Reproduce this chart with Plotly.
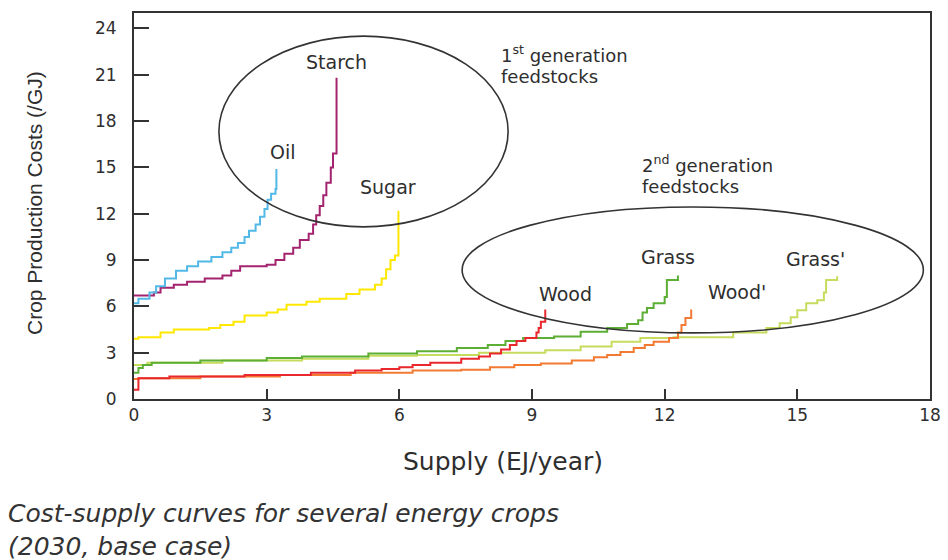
import plotly.graph_objects as go

# ---------------- data ----------------
oil_x = [0, 0.1, 0.35, 0.5, 0.7, 0.95, 1.2, 1.45, 1.75, 2.0, 2.2, 2.35, 2.5, 2.6, 2.75, 2.85, 2.95, 3.02, 3.1, 3.2, 3.22]
oil_y = [6.2, 6.5, 6.9, 7.3, 7.8, 8.3, 8.6, 8.9, 9.2, 9.5, 9.8, 10.1, 10.5, 10.9, 11.3, 11.8, 12.3, 12.9, 13.3, 13.6, 14.9]

starch_x = [0, 0.45, 0.6, 0.9, 1.2, 1.6, 2.0, 2.2, 2.4, 3.0, 3.2, 3.4, 3.6, 3.75, 3.95, 4.05, 4.12, 4.2, 4.28, 4.35, 4.45, 4.5, 4.58]
starch_y = [6.7, 6.9, 7.2, 7.4, 7.6, 7.8, 8.0, 8.3, 8.6, 8.7, 9.0, 9.4, 9.8, 10.3, 10.7, 11.3, 11.9, 12.5, 13.2, 14.0, 15.0, 15.9, 20.8]

sugar_x = [0, 0.1, 0.6, 0.9, 1.7, 1.95, 2.25, 2.5, 3.0, 3.25, 3.45, 3.9, 4.2, 4.8, 5.1, 5.45, 5.6, 5.7, 5.8, 5.9, 5.98]
sugar_y = [3.9, 4.0, 4.3, 4.5, 4.6, 4.8, 5.0, 5.4, 5.6, 5.8, 6.1, 6.3, 6.5, 6.8, 7.1, 7.4, 7.8, 8.4, 9.0, 9.3, 12.2]

wood_x = [0, 0.1, 0.8, 2.5, 4.0, 5.0, 5.6, 6.0, 6.3, 6.7, 7.4, 7.8, 8.05, 8.3, 8.5, 8.65, 8.85, 9.1, 9.15, 9.2, 9.3]
wood_y = [0.6, 1.35, 1.45, 1.55, 1.7, 1.85, 1.95, 2.05, 2.2, 2.35, 2.6, 2.75, 2.95, 3.2, 3.5, 3.75, 3.95, 4.3, 4.6, 5.0, 5.8]

woodp_x = [0, 0.1, 1.5, 3.3, 4.9, 6.3, 7.4, 8.05, 8.6, 9.2, 9.9, 10.4, 10.7, 11.0, 11.3, 11.55, 11.75, 12.1, 12.3, 12.38, 12.47, 12.6]
woodp_y = [1.3, 1.35, 1.45, 1.55, 1.7, 1.85, 1.9, 2.05, 2.2, 2.3, 2.5, 2.7, 2.85, 3.05, 3.3, 3.5, 3.7, 3.95, 4.3, 4.8, 5.25, 5.8]

grass_x = [0, 0.1, 0.2, 0.4, 1.5, 3.0, 3.8, 5.3, 6.4, 7.3, 8.0, 8.4, 8.8, 9.5, 10.1, 10.7, 11.15, 11.4, 11.5, 11.6, 11.75, 12.0, 12.05, 12.3]
grass_y = [1.7, 2.0, 2.2, 2.35, 2.5, 2.65, 2.75, 2.95, 3.1, 3.3, 3.5, 3.75, 3.95, 4.05, 4.35, 4.6, 4.85, 5.1, 5.6, 5.9, 6.2, 6.6, 7.7, 8.0]

grassp_x = [0, 0.3, 2.0, 3.8, 5.3, 6.4, 7.8, 9.3, 10.1, 10.8, 11.45, 12.2, 13.55, 14.3, 14.6, 14.85, 15.0, 15.2, 15.45, 15.6, 15.65, 15.9]
grassp_y = [2.2, 2.35, 2.5, 2.6, 2.8, 2.85, 3.0, 3.15, 3.4, 3.7, 3.95, 4.0, 4.3, 4.6, 4.9, 5.3, 5.75, 6.2, 6.4, 6.9, 7.7, 7.95]

x_ticks = [0, 3, 6, 9, 12, 15, 18]
y_ticks = [0, 3, 6, 9, 12, 15, 18, 21, 24]

curve_names = ["Grass'", "Grass", "Wood'", "Wood", "Sugar", "Starch", "Oil"]
curve_colors = ["#c6dc5c", "#5cae34", "#f27a32", "#e8282c", "#ffe800", "#a4236f", "#52b9e6"]
curve_data = [(grassp_x, grassp_y), (grass_x, grass_y), (woodp_x, woodp_y), (wood_x, wood_y),
              (sugar_x, sugar_y), (starch_x, starch_y), (oil_x, oil_y)]

# label anchor positions (data coords)
label_text = ["Oil", "Starch", "Sugar", "Wood", "Grass", "Wood'", "Grass'"]
label_x = [3.38, 4.57, 5.75, 9.75, 12.08, 13.64, 15.4]
label_y = [16.0, 21.8, 13.7, 6.8, 9.2, 6.95, 9.07]

TXT = "#2e2e2e"
FONT = "DejaVu Sans"

fig = go.Figure()
for name, col, (xs, ys) in zip(curve_names, curve_colors, curve_data):
    fig.add_trace(go.Scatter(x=xs, y=ys, mode="lines", name=name,
                             line=dict(color=col, width=2, shape="hv"),
                             showlegend=False, hoverinfo="skip"))

annotations = []
for t, lx, ly in zip(label_text, label_x, label_y):
    annotations.append(dict(x=lx, y=ly, xref="x", yref="y", text=t, showarrow=False,
                            xanchor="center", yanchor="middle",
                            font=dict(family=FONT, size=19, color=TXT)))

def paper_x(px):
    return (px - 134) / 796.0

def paper_y(py):
    return (399 - py) / 386.0

# generation notes
gen_font = dict(family=FONT, size=18, color=TXT)
annotations += [
    dict(x=paper_x(500), y=paper_y(54), xref="paper", yref="paper", text="1<sup>st</sup> generation",
         showarrow=False, xanchor="left", yanchor="middle", borderpad=0, font=gen_font),
    dict(x=paper_x(500), y=paper_y(76), xref="paper", yref="paper", text="feedstocks",
         showarrow=False, xanchor="left", yanchor="middle", borderpad=0, font=gen_font),
    dict(x=paper_x(641), y=paper_y(164), xref="paper", yref="paper", text="2<sup>nd</sup> generation",
         showarrow=False, xanchor="left", yanchor="middle", borderpad=0, font=gen_font),
    dict(x=paper_x(641), y=paper_y(186), xref="paper", yref="paper", text="feedstocks",
         showarrow=False, xanchor="left", yanchor="middle", borderpad=0, font=gen_font),
]

# axis titles and caption
annotations += [
    dict(x=paper_x(34), y=paper_y(203), xref="paper", yref="paper", text="Crop Production Costs (/GJ)",
         textangle=-90, showarrow=False, xanchor="center", yanchor="middle",
         font=dict(family="Liberation Sans", size=21, color=TXT)),
    dict(x=paper_x(503), y=paper_y(462), xref="paper", yref="paper", text="Supply (EJ/year)",
         showarrow=False, xanchor="center", yanchor="middle",
         font=dict(family=FONT, size=25, color=TXT)),
    dict(x=paper_x(7), y=paper_y(530), xref="paper", yref="paper",
         text="Cost-supply curves for several energy crops<br>(2030, base case)",
         showarrow=False, xanchor="left", yanchor="middle", align="left", borderpad=0,
         font=dict(family=FONT, size=25, color="#333333", style="italic")),
]

shapes = [
    dict(type="circle", xref="x", yref="y", x0=1.92, x1=8.46, y0=11.15, y1=23.5,
         line=dict(color="#333333", width=1.6)),
    dict(type="circle", xref="x", yref="y", x0=7.42, x1=17.85, y0=4.28, y1=12.44,
         line=dict(color="#333333", width=1.6)),
]

fig.update_layout(
    width=948, height=560,
    margin=dict(l=134, r=18, t=13, b=161, autoexpand=False),
    paper_bgcolor="white", plot_bgcolor="white",
    annotations=annotations, shapes=shapes,
    xaxis=dict(range=[0, 18], tickvals=x_ticks, ticktext=[str(v) for v in x_ticks],
               showgrid=False, zeroline=False, showline=True, linecolor="#333333", linewidth=2,
               mirror=True, ticks="inside", ticklen=10, tickwidth=2, tickcolor="#333333",
               tickfont=dict(family=FONT, size=17, color=TXT), ticklabelstandoff=0,
               fixedrange=True),
    yaxis=dict(range=[0, 25], tickvals=y_ticks, ticktext=[str(v) for v in y_ticks],
               showgrid=False, zeroline=False, showline=True, linecolor="#333333", linewidth=2,
               mirror=True, ticks="inside", ticklen=15, tickwidth=2, tickcolor="#333333",
               tickfont=dict(family=FONT, size=17, color=TXT), ticklabelstandoff=12,
               fixedrange=True),
)

fig.write_html("out.html", config={"displayModeBar": False},
               post_script="document.body.style.margin='0';document.body.style.overflow='hidden';")
